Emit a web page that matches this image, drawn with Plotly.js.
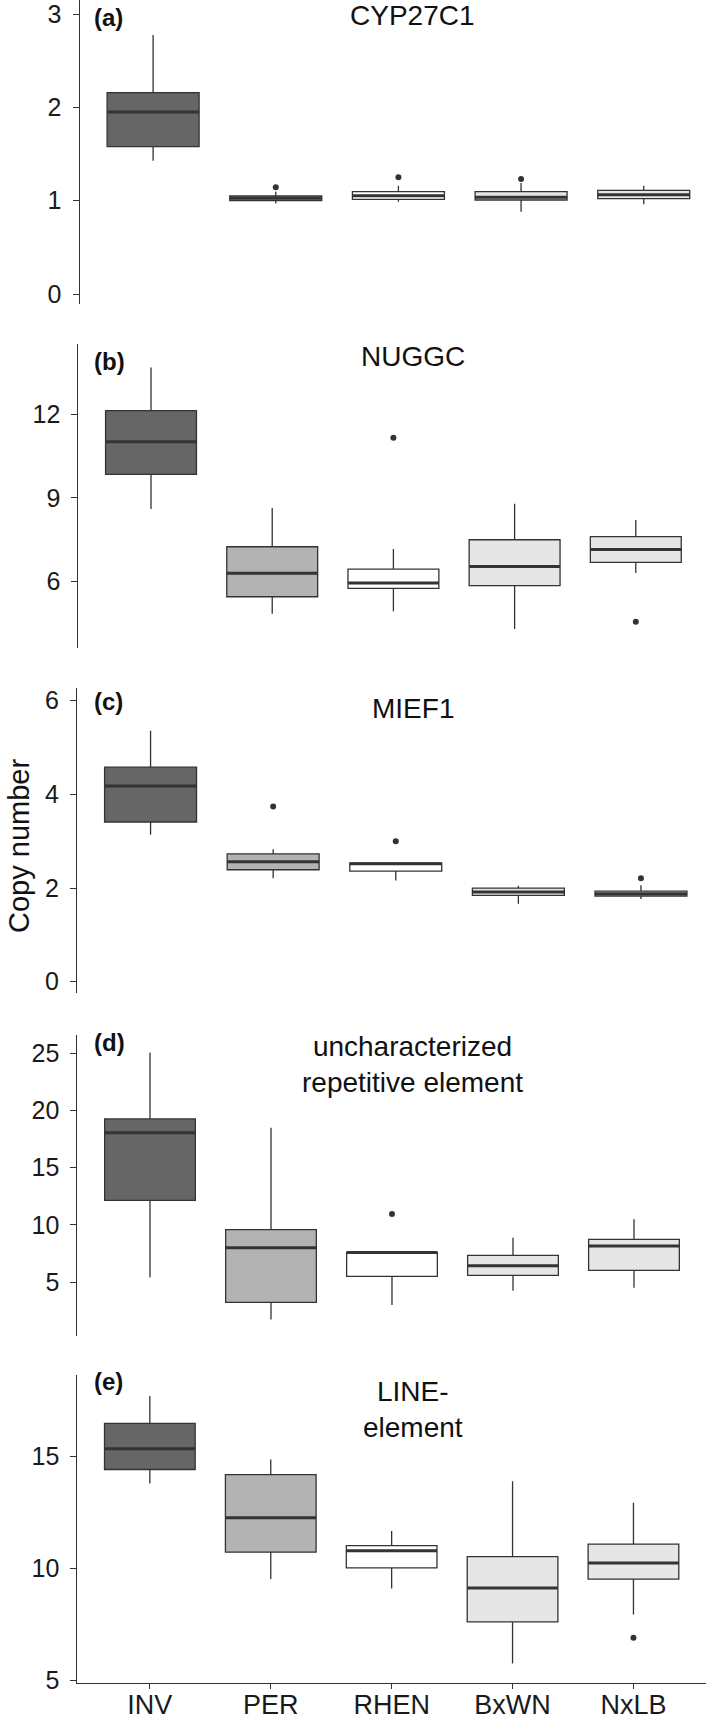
<!DOCTYPE html>
<html>
<head>
<meta charset="utf-8">
<script src="https://cdn.plot.ly/plotly-3.0.1.min.js"></script>
<style>
  html, body { margin: 0; padding: 0; background: #ffffff; overflow: hidden; }
  #chart { width: 709px; height: 1720px; }
</style>
</head>
<body>
<div id="chart"></div>
<script>
// ---------------- data ----------------
const groups = ['INV', 'PER', 'RHEN', 'BxWN', 'NxLB'];
const panelLetters = ['(a)', '(b)', '(c)', '(d)', '(e)'];
const panelTitles = ['CYP27C1', 'NUGGC', 'MIEF1', 'uncharacterized<br>repetitive element', 'LINE-<br>element'];
const yAxisTitle = 'Copy number';

// (a) CYP27C1
const aLow = [1.429, 0.971, 0.989, 0.882, 0.961];
const aQ1  = [1.579, 1.000, 1.014, 1.007, 1.021];
const aMed = [1.950, 1.025, 1.053, 1.036, 1.064];
const aQ3  = [2.157, 1.050, 1.096, 1.096, 1.111];
const aHigh = [2.775, 1.096, 1.160, 1.190, 1.160];
const aOutGroup = ['PER', 'RHEN', 'BxWN'];
const aOutVal = [1.143, 1.250, 1.232];
const aTicks = [0, 1, 2, 3];

// (b) NUGGC
const bLow = [8.60, 4.85, 4.94, 4.31, 6.31];
const bQ1  = [9.84, 5.46, 5.76, 5.86, 6.69];
const bMed = [11.01, 6.30, 5.95, 6.54, 7.15];
const bQ3  = [12.12, 7.25, 6.45, 7.50, 7.61];
const bHigh = [13.66, 8.64, 7.17, 8.79, 8.21];
const bOutGroup = ['RHEN', 'NxLB'];
const bOutVal = [11.15, 4.57];
const bTicks = [6, 9, 12];

// (c) MIEF1
const cLow = [3.14, 2.21, 2.16, 1.665, 1.765];
const cQ1  = [3.41, 2.39, 2.36, 1.843, 1.830];
const cMed = [4.18, 2.56, 2.52, 1.915, 1.880];
const cQ3  = [4.58, 2.73, 2.53, 2.000, 1.936];
const cHigh = [5.36, 2.83, 2.53, 2.050, 2.060];
const cOutGroup = ['PER', 'RHEN', 'NxLB'];
const cOutVal = [3.74, 3.00, 2.21];
const cTicks = [0, 2, 4, 6];

// (d) uncharacterized repetitive element
const dLow = [5.41, 1.73, 2.99, 4.24, 4.50];
const dQ1  = [12.14, 3.22, 5.50, 5.58, 6.02];
const dMed = [18.06, 8.00, 7.57, 6.43, 8.15];
const dQ3  = [19.26, 9.58, 7.59, 7.33, 8.73];
const dHigh = [25.06, 18.50, 7.59, 8.88, 10.48];
const dOutGroup = ['RHEN'];
const dOutVal = [10.95];
const dTicks = [5, 10, 15, 20, 25];

// (e) LINE-element
const eLow = [13.81, 9.54, 9.12, 5.77, 7.96];
const eQ1  = [14.43, 10.74, 10.04, 7.63, 9.54];
const eMed = [15.36, 12.28, 10.80, 9.14, 10.25];
const eQ3  = [16.49, 14.20, 11.03, 10.54, 11.10];
const eHigh = [17.71, 14.88, 11.68, 13.91, 12.95];
const eOutGroup = ['NxLB'];
const eOutVal = [6.92];
const eTicks = [5, 10, 15];

// ---------------- styling / geometry ----------------
const W = 709, H = 1720;
const fills = ['#666666', '#b3b3b3', '#ffffff', '#e6e6e6', '#e6e6e6'];
const ink = '#333333';
const FONT = 'Liberation Sans, Arial, Helvetica, sans-serif';

const panels = [
  {low: aLow, q1: aQ1, med: aMed, q3: aQ3, high: aHigh, og: aOutGroup, ov: aOutVal, ticks: aTicks,
   top: 0, bottom: 304, yr: [-0.107, 3.15], xl: 79.5, xr: 709, xrange: [-0.6, 4.532],
   titleY: 15.5, letterY: 17},
  {low: bLow, q1: bQ1, med: bMed, q3: bQ3, high: bHigh, og: bOutGroup, ov: bOutVal, ticks: bTicks,
   top: 344, bottom: 648.3, yr: [3.616, 14.505], xl: 78.3, xr: 709, xrange: [-0.6, 4.604],
   titleY: 356.7, letterY: 361.7},
  {low: cLow, q1: cQ1, med: cMed, q3: cQ3, high: cHigh, og: cOutGroup, ov: cOutVal, ticks: cTicks,
   top: 688, bottom: 993, yr: [-0.241, 6.271], xl: 77, xr: 709, xrange: [-0.6, 4.555],
   titleY: 708.3, letterY: 701.7},
  {low: dLow, q1: dQ1, med: dMed, q3: dQ3, high: dHigh, og: dOutGroup, ov: dOutVal, ticks: dTicks,
   top: 1035, bottom: 1336, yr: [0.278, 26.6], xl: 77.4, xr: 709, xrange: [-0.6, 4.62],
   titleY: 1064.2, letterY: 1042.7},
  {low: eLow, q1: eQ1, med: eMed, q3: eQ3, high: eHigh, og: eOutGroup, ov: eOutVal, ticks: eTicks,
   top: 1375, bottom: 1683.3, yr: [4.884, 18.65], xl: 77.3, xr: 706, xrange: [-0.6, 4.6],
   titleY: 1409, letterY: 1381.7}
];

const traces = [];
const layout = {
  width: W, height: H,
  margin: {l: 0, r: 0, t: 0, b: 0, pad: 0},
  paper_bgcolor: '#ffffff', plot_bgcolor: '#ffffff',
  showlegend: false,
  boxmode: 'overlay',
  font: {family: FONT, color: '#1a1a1a'},
  annotations: []
};

panels.forEach((p, k) => {
  const sfx = k === 0 ? '' : String(k + 1);
  const xa = 'x' + sfx, ya = 'y' + sfx;

  groups.forEach((g, i) => {
    traces.push({
      type: 'box', xaxis: xa, yaxis: ya,
      x: [g], q1: [p.q1[i]], median: [p.med[i]], q3: [p.q3[i]],
      lowerfence: [p.low[i]], upperfence: [p.high[i]],
      width: 0.75, whiskerwidth: 0, boxpoints: false,
      fillcolor: fills[i], line: {color: ink, width: 1.3},
      hoverinfo: 'skip'
    });
  });
  // thick median bars
  traces.push({
    type: 'box', xaxis: xa, yaxis: ya,
    x: groups, q1: p.med, median: p.med, q3: p.med, lowerfence: p.med, upperfence: p.med,
    width: 0.75, whiskerwidth: 0, boxpoints: false,
    fillcolor: 'rgba(0,0,0,0)', line: {color: ink, width: 3},
    hoverinfo: 'skip'
  });
  // outliers
  traces.push({
    type: 'scatter', mode: 'markers', xaxis: xa, yaxis: ya,
    x: p.og, y: p.ov,
    marker: {color: ink, size: 6},
    hoverinfo: 'skip', cliponaxis: false
  });

  const isLast = k === panels.length - 1;
  layout['xaxis' + sfx] = {
    domain: [p.xl / W, p.xr / W],
    anchor: ya,
    type: 'category',
    categoryorder: 'array', categoryarray: groups,
    range: p.xrange,
    showgrid: false, zeroline: false,
    showline: isLast, linecolor: ink, linewidth: 1,
    ticks: isLast ? 'outside' : '', ticklen: 5, tickcolor: ink, tickwidth: 1,
    showticklabels: isLast,
    tickfont: {family: FONT, size: 27, color: '#1a1a1a'},
    ticklabelstandoff: -8,
    ticklabeloverflow: 'allow',
    fixedrange: true
  };
  layout['yaxis' + sfx] = {
    domain: [1 - p.bottom / H, 1 - p.top / H],
    anchor: xa,
    range: p.yr,
    tickvals: p.ticks, ticktext: p.ticks.map(String),
    showgrid: false, zeroline: false,
    showline: true, linecolor: ink, linewidth: 1,
    ticks: 'outside', ticklen: 6, tickcolor: ink, tickwidth: 1,
    tickfont: {family: FONT, size: 25, color: '#1a1a1a'},
    ticklabelstandoff: 6,
    ticklabeloverflow: 'allow',
    fixedrange: true
  };

  layout.annotations.push({
    xref: 'paper', yref: 'paper', x: 412.5 / W, y: 1 - p.titleY / H,
    xanchor: 'center', yanchor: 'middle', showarrow: false,
    text: panelTitles[k], align: 'center',
    font: {family: FONT, size: 28, color: '#111111'}
  });
  layout.annotations.push({
    xref: 'paper', yref: 'paper', x: 92 / W, y: 1 - p.letterY / H,
    xanchor: 'left', yanchor: 'middle', showarrow: false,
    text: '<b>' + panelLetters[k] + '</b>',
    font: {family: FONT, size: 24, color: '#111111'}
  });
});

layout.annotations.push({
  xref: 'paper', yref: 'paper', x: 19 / W, y: 1 - 846 / H,
  xanchor: 'center', yanchor: 'middle', showarrow: false,
  textangle: -90, text: yAxisTitle,
  font: {family: FONT, size: 29, color: '#111111'}
});

Plotly.newPlot('chart', traces, layout, {displayModeBar: false, staticPlot: true});
</script>
</body>
</html>
